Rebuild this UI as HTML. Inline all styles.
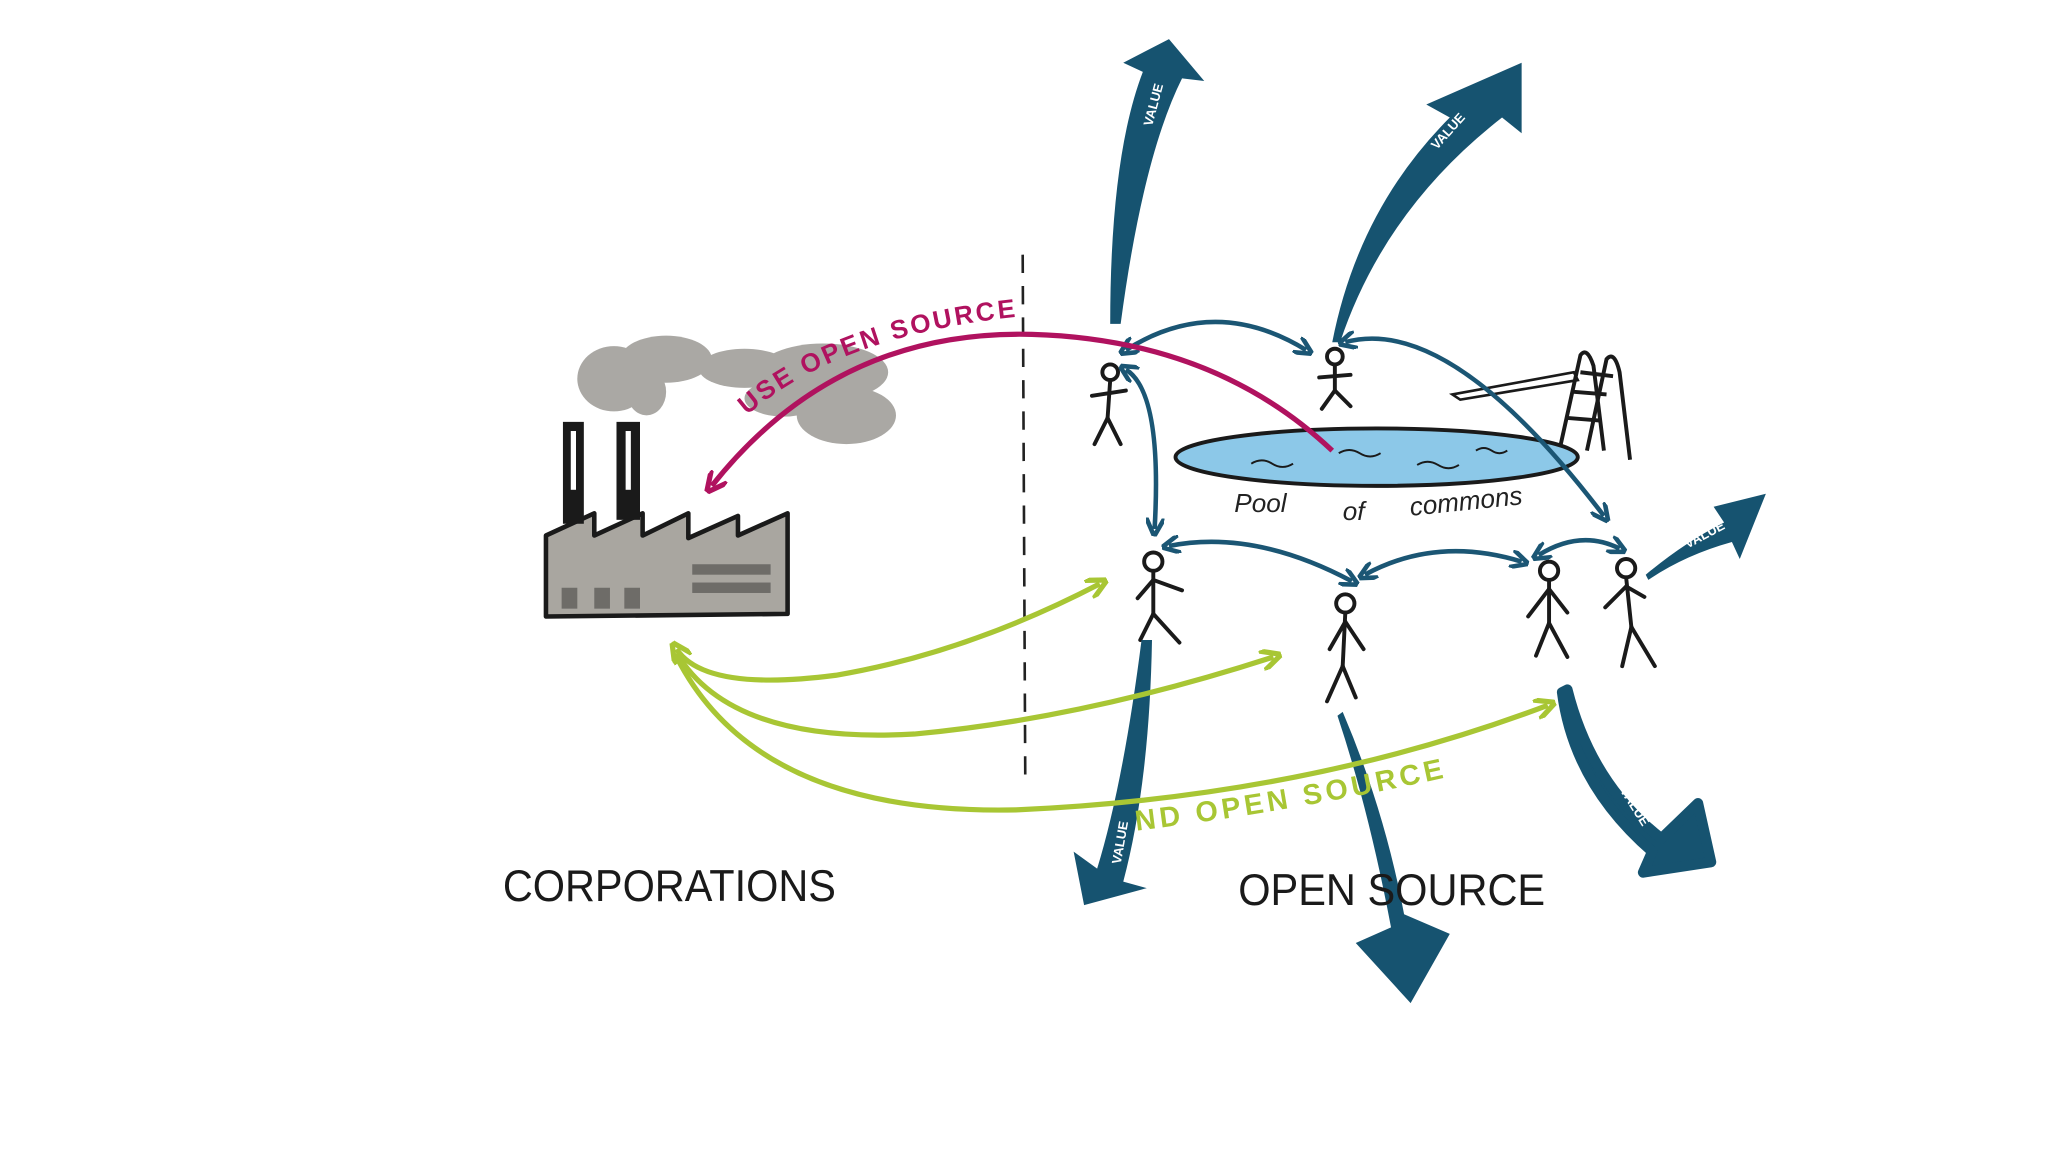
<!DOCTYPE html>
<html><head><meta charset="utf-8"><style>
html,body{margin:0;padding:0;background:#fff;}
svg{display:block;}
</style></head><body>
<svg width="2048" height="1152" viewBox="0 0 1568 882" xmlns="http://www.w3.org/2000/svg">
<defs>
<marker id="bh" viewBox="0 0 10 10" refX="6" refY="5" markerWidth="4" markerHeight="4" orient="auto-start-reverse"><path d="M0,0 L10,5 L0,10" fill="none" stroke="#1b5674" stroke-width="2.5"/></marker>
<marker id="gh" viewBox="0 0 10 10" refX="6" refY="5" markerWidth="4" markerHeight="4" orient="auto-start-reverse"><path d="M0,0 L10,5 L0,10" fill="none" stroke="#a8c634" stroke-width="2.5"/></marker>
<marker id="mh" viewBox="0 0 10 10" refX="6" refY="5" markerWidth="4" markerHeight="4" orient="auto"><path d="M0,0 L10,5 L0,10" fill="none" stroke="#b0125f" stroke-width="2.5"/></marker>
<path id="usep" d="M572,318 Q650,250 810,240"/>
<path id="fundp" d="M870,636 Q1000,620 1130,590"/>
</defs>
<rect width="1568" height="882" fill="#fff"/>
<line x1="783" y1="195" x2="785" y2="602" stroke="#222" stroke-width="2" stroke-dasharray="14,10"/>
<g fill="#9c9a95" opacity="0.85">
<ellipse cx="470" cy="290" rx="28" ry="25"/><ellipse cx="510" cy="275" rx="35" ry="18"/>
<ellipse cx="570" cy="282" rx="35" ry="15"/><ellipse cx="630" cy="285" rx="50" ry="22"/>
<ellipse cx="648" cy="318" rx="38" ry="22"/><ellipse cx="600" cy="305" rx="30" ry="14"/>
<ellipse cx="495" cy="300" rx="15" ry="18"/>
</g>
<polygon points="418,410 455,393 455,410 492,393 492,410 527,393 527,412 565,395 565,410 603,393 603,470 418,472" fill="#a9a6a0" stroke="#1a1a1a" stroke-width="3.5" stroke-linejoin="round"/>
<rect x="431" y="323" width="16" height="78" fill="#1a1a1a"/><rect x="437" y="330" width="4" height="45" fill="#fff"/>
<rect x="472" y="323" width="18" height="75" fill="#1a1a1a"/><rect x="479" y="330" width="4" height="45" fill="#fff"/>
<g fill="#6e6c68"><rect x="430" y="450" width="12" height="16"/><rect x="455" y="450" width="12" height="16"/><rect x="478" y="450" width="12" height="16"/>
<rect x="530" y="432" width="60" height="8"/><rect x="530" y="446" width="60" height="8"/></g>
<ellipse cx="1054" cy="350" rx="154" ry="22" fill="#8cc8e8" stroke="#1a1a1a" stroke-width="3"/>
<g stroke="#1a1a1a" stroke-width="1.5" fill="none"><path d="M958,355 q8,-5 16,0 q8,5 16,0"/><path d="M1025,347 q8,-5 16,0 q8,5 16,0"/><path d="M1085,356 q8,-5 16,0 q8,5 16,0"/><path d="M1130,345 q6,-4 12,0 q6,4 12,0"/></g>
<text x="945" y="392" font-family="Liberation Sans,sans-serif" font-size="20" fill="#222" font-style="italic">Pool</text>
<text x="1028" y="398" font-family="Liberation Sans,sans-serif" font-size="20" fill="#222" font-style="italic">of</text>
<text x="1080" y="395" font-family="Liberation Sans,sans-serif" font-size="20" fill="#222" font-style="italic" transform="rotate(-6 1080 395)">commons</text>
<polygon points="1112,302 1205,285 1208,291 1118,306" fill="#fff" stroke="#1a1a1a" stroke-width="2"/>
<g stroke="#1a1a1a" stroke-width="3" fill="none"><path d="M1195,340 L1210,272 Q1215,265 1220,280 L1228,345"/><path d="M1215,345 L1230,275 Q1236,268 1240,285 L1248,352"/>
<line x1="1200" y1="320" x2="1225" y2="322"/><line x1="1205" y1="300" x2="1230" y2="302"/><line x1="1210" y1="285" x2="1235" y2="288"/></g>
<g stroke="#1a1a1a" stroke-width="3" fill="none" stroke-linecap="round">
<g transform="translate(850,285)"><circle cx="0" cy="0" r="6"/><line x1="0" y1="6" x2="-2" y2="35"/><line x1="-14" y1="18" x2="12" y2="14"/><line x1="-2" y1="35" x2="-12" y2="55"/><line x1="-2" y1="35" x2="8" y2="55"/></g>
<g transform="translate(1022,273)"><circle cx="0" cy="0" r="6"/><line x1="0" y1="6" x2="0" y2="26"/><line x1="-12" y1="16" x2="12" y2="14"/><line x1="0" y1="26" x2="-10" y2="40"/><line x1="0" y1="26" x2="12" y2="38"/></g>
<g transform="translate(883,430)"><circle cx="0" cy="0" r="7"/><line x1="0" y1="7" x2="0" y2="40"/><line x1="0" y1="14" x2="-12" y2="28"/><line x1="0" y1="14" x2="22" y2="22"/><line x1="0" y1="40" x2="-10" y2="60"/><line x1="0" y1="40" x2="20" y2="62"/></g>
<g transform="translate(1030,462)"><circle cx="0" cy="0" r="7"/><line x1="0" y1="7" x2="-2" y2="48"/><line x1="0" y1="14" x2="-12" y2="35"/><line x1="0" y1="14" x2="14" y2="35"/><line x1="-2" y1="48" x2="-14" y2="75"/><line x1="-2" y1="48" x2="8" y2="72"/></g>
<g transform="translate(1186,437)"><circle cx="0" cy="0" r="7"/><line x1="0" y1="7" x2="0" y2="40"/><line x1="0" y1="14" x2="-16" y2="35"/><line x1="0" y1="14" x2="14" y2="32"/><line x1="0" y1="40" x2="-10" y2="65"/><line x1="0" y1="40" x2="14" y2="66"/></g>
<g transform="translate(1245,435)"><circle cx="0" cy="0" r="7"/><line x1="0" y1="7" x2="4" y2="45"/><line x1="0" y1="14" x2="-16" y2="30"/><line x1="0" y1="14" x2="14" y2="22"/><line x1="4" y1="45" x2="-3" y2="75"/><line x1="4" y1="45" x2="22" y2="75"/></g>
</g>
<g stroke="#1b5674" stroke-width="3.5" fill="none" marker-end="url(#bh)" marker-start="url(#bh)">
<path d="M862,268 Q930,225 1000,268"/>
<path d="M862,283 Q890,300 884,405"/>
<path d="M1030,262 Q1110,240 1228,395"/>
<path d="M895,418 Q960,405 1035,445"/>
<path d="M1045,440 Q1100,410 1165,430"/>
<path d="M1178,425 Q1210,405 1240,420"/>
</g>
<g fill="#165370">
<path d="M850,248 Q850,120 875,55 L860,48 L895,30 L922,62 L905,60 Q875,120 858,248Z"/>
<path d="M1020,262 Q1040,160 1110,90 L1092,80 L1165,48 L1165,102 L1150,90 Q1060,160 1026,262Z"/>
<path d="M1260,440 Q1290,415 1320,400 L1312,388 L1352,378 L1332,428 L1326,415 Q1290,425 1262,444Z"/>
<path d="M882,490 Q880,600 860,675 L878,680 L830,693 L822,652 L840,665 Q860,600 874,490Z"/>
<path d="M1028,545 Q1060,620 1075,700 L1110,715 L1080,768 L1038,722 L1065,710 Q1048,620 1024,548Z"/>
<path d="M1200,528 Q1218,600 1272,642 L1300,615 L1310,660 L1258,668 L1265,652 Q1205,600 1196,530Z" stroke="#165370" stroke-width="8" stroke-linejoin="round"/>
</g>
<g font-family="Liberation Sans,sans-serif" font-size="10" fill="#fff" font-weight="bold">
<text transform="translate(882,97) rotate(-75)">VALUE</text>
<text transform="translate(1100,115) rotate(-48)">VALUE</text>
<text transform="translate(1292,420) rotate(-28)">VALUE</text>
<text transform="translate(858,662) rotate(-80)">VALUE</text>
<text transform="translate(1240,605) rotate(58)">VALUE</text>
</g>
<path d="M1020,345 Q930,260 790,256 Q640,252 545,372" stroke="#b0125f" stroke-width="4" fill="none" marker-end="url(#mh)"/>
<text font-family="Liberation Sans,sans-serif" font-size="20" font-weight="bold" fill="#b0125f" letter-spacing="2"><textPath href="#usep">USE OPEN SOURCE</textPath></text>
<g stroke="#a8c634" stroke-width="4" fill="none">
<path d="M518,497 Q540,530 640,517 Q740,500 842,447" marker-start="url(#gh)" marker-end="url(#gh)"/>
<path d="M518,500 Q560,570 700,562 Q830,550 975,503" marker-end="url(#gh)"/>
<path d="M518,503 Q580,625 780,620 Q1000,610 1185,540" marker-end="url(#gh)"/>
</g>
<text font-family="Liberation Sans,sans-serif" font-size="22" font-weight="bold" fill="#a8c634" letter-spacing="3"><textPath href="#fundp">ND OPEN SOURCE</textPath></text>
<text x="385" y="690" font-family="Liberation Sans,sans-serif" font-size="34" fill="#1a1a1a" textLength="255" lengthAdjust="spacingAndGlyphs">CORPORATIONS</text>
<text x="948" y="693" font-family="Liberation Sans,sans-serif" font-size="34" fill="#1a1a1a" textLength="235" lengthAdjust="spacingAndGlyphs">OPEN SOURCE</text>
</svg>
</body></html>
